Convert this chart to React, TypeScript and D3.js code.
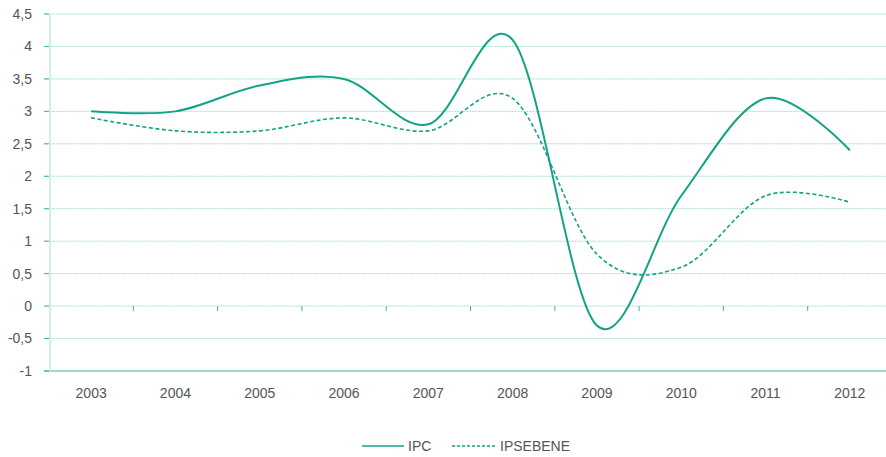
import React from "react";
import * as d3 from "d3";

const years = ["2003", "2004", "2005", "2006", "2007", "2008", "2009", "2010", "2011", "2012"];
const ipc = [3.0, 3.0, 3.4, 3.5, 2.8, 4.1, -0.3, 1.7, 3.2, 2.4];
const ipsebene = [2.9, 2.7, 2.7, 2.9, 2.7, 3.2, 0.8, 0.6, 1.7, 1.6];
const yTicks = [-1, -0.5, 0, 0.5, 1, 1.5, 2, 2.5, 3, 3.5, 4, 4.5];

const W = 886, H = 457;
const M = { left: 49, right: -6, top: 14, bottom: 86 };
const GREEN = "#12a385";
const GRID = "#a3ddcf";
const FONT = "'Liberation Sans', Arial, sans-serif";

export default function App() {
  const x = d3.scaleBand<string>().domain(years).range([M.left, W - M.right]).padding(0);
  const y = d3.scaleLinear().domain([-1, 4.5]).range([H - M.bottom, M.top]);
  const cx = (i: number) => (x(years[i]) as number) + x.bandwidth() / 2;
  const line = d3.line<number>().x((_, i) => cx(i)).y((d) => y(d)).curve(d3.curveCatmullRom.alpha(0));
  const fmt = (v: number) => String(v).replace(".", ",");
  const x0 = M.left;
  const x1 = W;
  return (
    <svg width={W} height={H} style={{ position: "absolute", left: 0, top: 0, background: "#fff" }} fontFamily={FONT}>
      {yTicks.map((t) => (
        <g key={t}>
          <line x1={x0 - 5} x2={x1} y1={y(t)} y2={y(t)} stroke={t === -1 ? "#3bb89a" : GRID} strokeWidth={t === -1 ? 1.2 : 1} strokeDasharray={t === -1 ? undefined : "1 0.5"} />
          <line x1={x0 - 5} x2={x0} y1={y(t)} y2={y(t)} stroke="#3bb89a" strokeWidth={1} />
          <text x={32} y={y(t)} dy="0.35em" textAnchor="end" fontSize={14} fill="#555">{fmt(t)}</text>
        </g>
      ))}
      <line x1={x0 + 1} x2={x0 + 1} y1={y(4.5)} y2={y(-1)} stroke="#c2eae0" strokeWidth={1.5} />
      {years.map((yr, i) => (
        <g key={yr}>
          {i > 0 && <line x1={x(yr) as number} x2={x(yr) as number} y1={y(0)} y2={y(0) + 5} stroke="#3bb89a" strokeWidth={1} />}
          <text x={cx(i)} y={398} textAnchor="middle" fontSize={14} fill="#555">{yr}</text>
        </g>
      ))}
      <path d={line(ipsebene) as string} fill="none" stroke={GREEN} strokeWidth={1.6} strokeDasharray="4 2.5" />
      <path d={line(ipc) as string} fill="none" stroke={GREEN} strokeWidth={2} />
      <g>
        <line x1={362} x2={404} y1={446} y2={446} stroke={GREEN} strokeWidth={1.6} />
        <text x={408} y={446} dy="0.35em" fontSize={14} fill="#555">IPC</text>
        <line x1={452} x2={496} y1={446} y2={446} stroke={GREEN} strokeWidth={1.3} strokeDasharray="3 2" />
        <text x={500} y={446} dy="0.35em" fontSize={14} fill="#555">IPSEBENE</text>
      </g>
    </svg>
  );
}
